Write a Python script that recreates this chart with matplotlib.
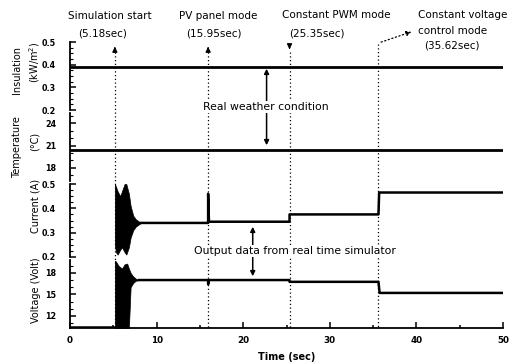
import matplotlib
matplotlib.use("Agg")
import matplotlib.pyplot as plt
from matplotlib.ticker import MultipleLocator

plt.rcParams['font.family'] = ['DejaVu Sans']

# event times (sec)
events = [5.18, 15.95, 25.35, 35.62]
event_names = [["Simulation start", "(5.18sec)"],
               ["PV panel mode", "(15.95sec)"],
               ["Constant PWM mode", "(25.35sec)"],
               ["Constant voltage", "control mode", "(35.62sec)"]]

# weather traces (flat)
ins_t = [0, 50]
ins_v = [0.39, 0.39]
temp_t = [0, 50]
temp_v = [20.4, 20.4]

# current: steady step trace after start-up transient
cur_t = [8.2, 15.9, 15.95, 15.95, 16.05, 25.35, 25.35, 35.62, 35.7, 50]
cur_v = [0.34, 0.34, 0.34, 0.46, 0.345, 0.345, 0.375, 0.375, 0.465, 0.465]
# current start-up transient envelope
cur_env_t = [5.18, 5.3, 5.5, 5.8, 6.0, 6.3, 6.5, 6.8, 7.0, 7.3, 7.6, 8.0, 8.2]
cur_env_hi = [0.50, 0.49, 0.47, 0.45, 0.47, 0.50, 0.50, 0.46, 0.41, 0.37, 0.355, 0.345, 0.34]
cur_env_lo = [0.25, 0.22, 0.21, 0.23, 0.24, 0.22, 0.21, 0.24, 0.28, 0.31, 0.325, 0.335, 0.34]

# voltage
volt_pre_t = [0, 5.18]
volt_pre_v = [10.45, 10.45]
volt_t = [8.0, 15.9, 15.95, 15.95, 16.05, 25.35, 25.35, 35.62, 35.75, 50]
volt_v = [17.0, 17.0, 17.0, 16.4, 17.0, 17.0, 16.75, 16.75, 15.2, 15.2]
volt_env_t = [5.18, 5.3, 5.6, 6.0, 6.3, 6.6, 6.8, 7.0, 7.3, 7.6, 8.0]
volt_env_hi = [19.7, 19.6, 19.0, 18.6, 19.2, 19.3, 18.6, 18.0, 17.5, 17.2, 17.0]
volt_env_lo = [10.3, 10.3, 10.3, 10.3, 10.3, 10.3, 10.3, 16.0, 16.6, 16.9, 17.0]

W, H = 520, 362
fig = plt.figure(figsize=(W / 100, H / 100), dpi=100)

L, R = 70 / W, 503 / W


def panel(top_px, bot_px):
    ax = fig.add_axes([L, 1 - bot_px / H, R - L, (bot_px - top_px) / H])
    ax.set_xlim(0, 50)
    for s in ['top', 'right', 'bottom']:
        ax.spines[s].set_visible(False)
    ax.spines['left'].set_linewidth(1.3)
    ax.tick_params(axis='y', direction='in', length=4, width=1.1, labelsize=5.8, pad=10)
    ax.tick_params(axis='y', which='minor', direction='in', length=2, width=0.8)
    ax.tick_params(axis='x', which='both', bottom=False, labelbottom=False)
    return ax


a1 = panel(42, 110)
a2 = panel(113, 181)
a3 = panel(184, 257)
a4 = panel(260, 328)

a1.plot(ins_t, ins_v, color='black', lw=2.0)
a1.set_ylim(0.2, 0.5)
a1.set_yticks([0.2, 0.3, 0.4, 0.5])
a1.yaxis.set_minor_locator(MultipleLocator(0.025))

a2.plot(temp_t, temp_v, color='black', lw=2.0)
a2.set_ylim(16.2, 25.4)
a2.set_yticks([18, 21, 24])
a2.yaxis.set_minor_locator(MultipleLocator(1))

a3.plot(cur_t, cur_v, color='black', lw=1.8)
a3.fill_between(cur_env_t, cur_env_lo, cur_env_hi, color='black', lw=0.5)
a3.set_ylim(0.2, 0.5)
a3.set_yticks([0.2, 0.3, 0.4, 0.5])
a3.yaxis.set_minor_locator(MultipleLocator(0.025))

a4.plot(volt_pre_t, volt_pre_v, color='black', lw=1.8)
a4.plot(volt_t, volt_v, color='black', lw=1.8)
a4.fill_between(volt_env_t, volt_env_lo, volt_env_hi, color='black', lw=0.5)
a4.set_ylim(10.3, 19.8)
a4.set_yticks([12, 15, 18])
a4.yaxis.set_minor_locator(MultipleLocator(1))
a4.spines['bottom'].set_visible(True)
a4.spines['bottom'].set_linewidth(1.3)
a4.tick_params(axis='x', which='both', bottom=True, labelbottom=True,
               direction='in', length=4, width=1.1, labelsize=6.3, pad=6)
a4.set_xticks([0, 10, 20, 30, 40, 50])
a4.xaxis.set_minor_locator(MultipleLocator(5))
a4.tick_params(axis='x', which='minor', direction='in', length=2.5)
a4.set_xlabel("Time (sec)", fontsize=7, fontweight='bold', labelpad=5)

for ax in (a1, a2, a3, a4):
    for lab in ax.get_yticklabels() + ax.get_xticklabels():
        lab.set_fontweight('bold')

# y labels
lk = dict(rotation=90, ha='center', va='center', fontsize=7.0)
fig.text(17 / W, 1 - 70 / H, "Insulation", **lk)
fig.text(35 / W, 1 - 62 / H, "(kW/m$^2$)", **lk)
fig.text(17 / W, 1 - 147 / H, "Temperature", **lk)
fig.text(35 / W, 1 - 141 / H, "(°C)", **lk)
fig.text(36 / W, 1 - 206 / H, "Current (A)", **lk)
fig.text(36 / W, 1 - 290 / H, "Voltage (Volt)", **lk)

# overlay for event markers and annotations (x in data, y in pixels)
ov = fig.add_axes([L, 0, R - L, 1])
ov.set_xlim(0, 50)
ov.set_ylim(H, 0)
ov.axis('off')
ov.patch.set_alpha(0)

for i, t in enumerate(events):
    top = 44 if i == 3 else 52
    ov.plot([t, t], [top, 328], color='black', lw=0.9, ls=(0, (1, 2)))
    if i < 2:
        ov.annotate("", xy=(t, 44), xytext=(t, 52),
                    arrowprops=dict(arrowstyle='-|>', color='black', lw=1, mutation_scale=7))
    elif i == 2:
        ov.annotate("", xy=(t, 52), xytext=(t, 44),
                    arrowprops=dict(arrowstyle='-|>', color='black', lw=1, mutation_scale=7))

tk = dict(ha='center', va='center', fontsize=7.5)
# (x offset from event, y px) for each text line
name_pos = [[(-0.6, 16), (-1.4, 33)],
            [(1.15, 16), (0.65, 33)],
            [(5.45, 15), (3.15, 33)],
            [(9.7, 15), (8.5, 31), (8.5, 46)]]
for t, names, poss in zip(events, event_names, name_pos):
    for s, (dx, y) in zip(names, poss):
        ov.text(t + dx, y, s, **tk)
ov.annotate("", xy=(events[3] + 4.1, 31), xytext=(events[3], 43),
            arrowprops=dict(arrowstyle='-|>', color='black', lw=0.9, ls=(0, (1, 2)),
                            mutation_scale=7))

# double arrows
ov.annotate("", xy=(22.7, 66), xytext=(22.7, 148),
            arrowprops=dict(arrowstyle='<|-|>', color='black', lw=1.1, mutation_scale=7))
ov.text(22.6, 107, "Real weather condition", ha='center', va='center', fontsize=7.8,
        bbox=dict(facecolor='white', edgecolor='none', pad=1))
ov.annotate("", xy=(21.1, 224), xytext=(21.1, 279),
            arrowprops=dict(arrowstyle='<|-|>', color='black', lw=1.1, mutation_scale=7))
ov.text(26.0, 251, "Output data from real time simulator", ha='center', va='center',
        fontsize=7.8, bbox=dict(facecolor='white', edgecolor='none', pad=1))

fig.savefig("out.png", dpi=100)
